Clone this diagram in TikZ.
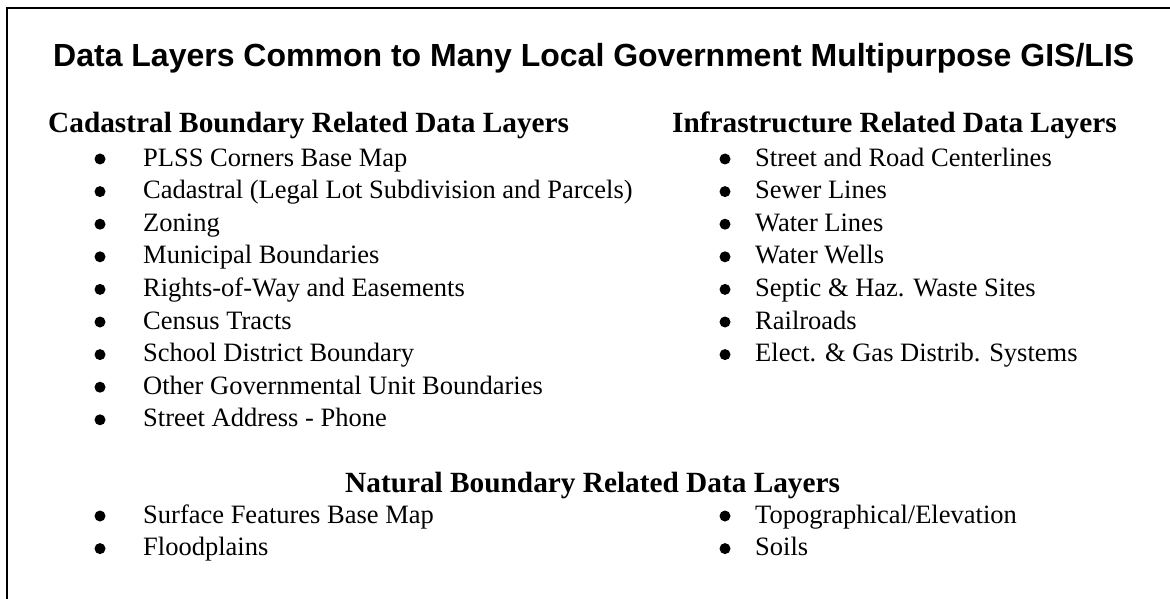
\documentclass[tikz,border=0pt]{standalone}
\usepackage{fontspec}
\setmainfont{Liberation Serif}
\newfontfamily\arialfont{Liberation Sans}
\begin{document}
\begin{tikzpicture}[
        x=1pt, y=-1pt,
        title/.style={anchor=base west, inner sep=0pt, font=\arialfont\fontsize{32}{36}\selectfont\bfseries},
        head/.style={anchor=base west, inner sep=0pt, font=\fontsize{29.3}{34}\selectfont\bfseries},
        item/.style={anchor=base west, inner sep=0pt, font=\fontsize{26.5}{31}\selectfont},
        dot/.style={circle, fill=black, inner sep=0pt, minimum size=11pt},
        frame/.style={line width=1.6pt}
    ]
    \useasboundingbox (0,0) rectangle (1170,599);
    \draw[frame] (7,599) -- (7,8) -- (1170,8);

    \node[title] (title) at (53,67) {Data Layers Common to Many Local Government Multipurpose GIS/LIS};

    \node[head] (cadhead) at (48,133) {Cadastral Boundary Related Data Layers};
    \node[head] (infhead) at (672,133) {Infrastructure Related Data Layers};
    \node[head] (nathead) at (345,492) {Natural Boundary Related Data Layers};

    % cadastral list
    \foreach \txt [count=\i] in {{PLSS Corners Base Map}, {Cadastral (Legal Lot Subdivision and Parcels)}, {Zoning},
            {Municipal Boundaries}, {Rights-of-Way and Easements}, {Census Tracts}, {School District Boundary},
            {Other Governmental Unit Boundaries}, {Street Address - Phone}} {
        \node[dot] (cadb\i) at (100,{159+32.6*(\i-1)}) {};
        \node[item] (cad\i) at (143,{166+32.6*(\i-1)}) {\txt};
    }

    % infrastructure list
    \foreach \txt [count=\i] in {{Street and Road Centerlines}, {Sewer Lines}, {Water Lines}, {Water Wells},
            {Septic \& Haz. Waste Sites}, {Railroads}, {Elect. \& Gas Distrib. Systems}} {
        \node[dot] (infb\i) at (725,{159+32.6*(\i-1)}) {};
        \node[item] (inf\i) at (755,{166+32.6*(\i-1)}) {\txt};
    }

    % natural list
    \foreach \txt [count=\i] in {{Surface Features Base Map}, {Floodplains}} {
        \node[dot] (natb\i) at (100,{516+32.6*(\i-1)}) {};
        \node[item] (nat\i) at (143,{523+32.6*(\i-1)}) {\txt};
    }
    \foreach \txt [count=\i] in {{Topographical/Elevation}, {Soils}} {
        \node[dot] (topb\i) at (725,{516+32.6*(\i-1)}) {};
        \node[item] (top\i) at (755,{523+32.6*(\i-1)}) {\txt};
    }

\end{tikzpicture}
\end{document}
